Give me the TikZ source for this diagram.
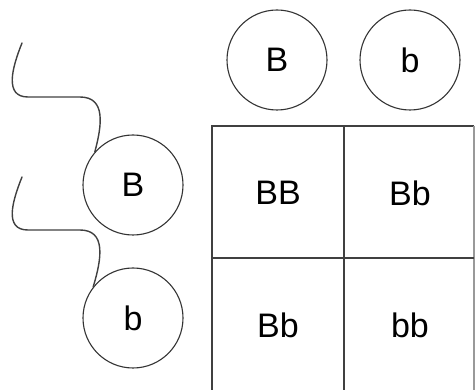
\documentclass[tikz,border=0pt]{standalone}
\usepackage{fontspec}
\setmainfont{Liberation Sans}
\begin{document}
\begin{tikzpicture}[x=1pt,y=-1pt,
  allele/.style={draw=black!80,line width=1.1pt,circle,minimum size=100pt,inner sep=0pt,font=\fontsize{34}{34}\selectfont},
  cell/.style={font=\fontsize{34}{34}\selectfont},
  grid line/.style={draw=black!75,line width=1.2pt},
  wire/.style={draw=black!75,line width=1.4pt,line cap=round}]
\useasboundingbox (0,0) rectangle (475,390);
% top gametes
\node[allele] (tB) at (277,60) {B};
\node[allele] (tb) at (410,60) {b};
% left gametes
\node[allele] (lB) at (133,185) {B};
\node[allele] (lb) at (133,318) {b};
% grid
\draw[grid line] (212,390) -- (212,126) -- (474,126);
\draw[draw=black!40,line width=1.2pt] (474,126) -- (474,390);
\draw[grid line] (344,126) -- (344,390);
\draw[grid line] (212,258) -- (474,258);
\node[cell] (c11) at (278,193) {BB};
\node[cell] (c12) at (410,193) {Bb};
\node[cell] (c21) at (278,325) {Bb};
\node[cell] (c22) at (410,325) {bb};
% wires
\coordinate (w1) at (22,43);
\coordinate (w2) at (22,177);
\draw[wire] (w1) .. controls (12,68) and (4,97) .. (28,97) -- (80,97)
  .. controls (106,97) and (102,125) .. (lB.139);
\draw[wire] (w2) .. controls (12,202) and (4,230) .. (28,230) -- (80,230)
  .. controls (106,230) and (102,258) .. (lb.142);
\end{tikzpicture}
\end{document}
